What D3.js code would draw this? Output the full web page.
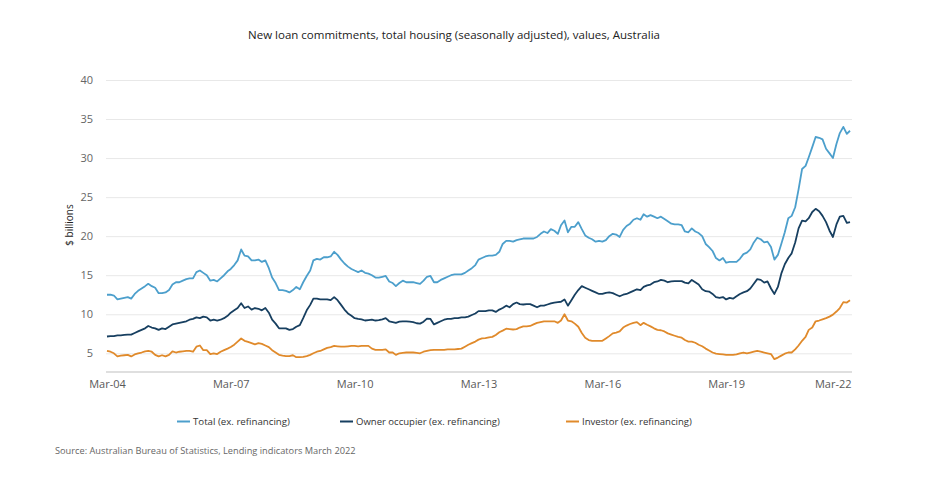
<!DOCTYPE html>
<html>
<head>
<meta charset="utf-8">
<script src="https://cdn.jsdelivr.net/npm/d3@7"></script>
<style>
  body { margin: 0; background: #fff; }
  svg { display: block; font-family: "Segoe UI", "Open Sans", sans-serif; }
</style>
</head>
<body>
<svg id="chart" width="938" height="486"></svg>
<script>
// monthly values, $ billions, Mar-04 .. Mar-22 (one row per year, Mar..Feb)
const total = [
  12.5, 12.5, 12.4, 11.9, 12.0, 12.1, 12.2, 12.0, 12.6, 13.0, 13.3, 13.6,
  13.9, 13.6, 13.4, 12.7, 12.7, 12.8, 13.1, 13.8, 14.1, 14.1, 14.3, 14.5,
  14.6, 14.6, 15.4, 15.6, 15.3, 15.0, 14.3, 14.4, 14.2, 14.6, 15.0, 15.5,
  15.8, 16.3, 16.9, 18.3, 17.5, 17.4, 16.9, 16.9, 17.0, 16.7, 16.9, 15.9,
  14.7, 14.0, 13.1, 13.1, 13.0, 12.8, 13.1, 13.5, 13.2, 14.1, 14.9, 15.6,
  16.9, 17.1, 17.0, 17.3, 17.3, 17.4, 18.0, 17.6, 17.0, 16.5, 16.1, 15.8,
  15.6, 15.4, 15.6, 15.3, 15.2, 15.0, 14.7, 14.7, 14.8, 14.9, 14.2, 14.0,
  13.6, 14.0, 14.3, 14.1, 14.1, 14.1, 14.0, 13.9, 14.3, 14.8, 14.9, 14.1,
  14.1, 14.4, 14.6, 14.8, 15.0, 15.1, 15.1, 15.1, 15.3, 15.6, 15.9, 16.3,
  17.0, 17.2, 17.4, 17.5, 17.5, 17.6, 18.0, 19.0, 19.4, 19.4, 19.3, 19.5,
  19.6, 19.7, 19.7, 19.7, 19.7, 19.9, 20.3, 20.6, 20.4, 20.9, 20.7, 20.3,
  21.4, 22.0, 20.5, 21.2, 21.2, 21.8, 20.9, 20.1, 19.8, 19.6, 19.3, 19.4,
  19.3, 19.5, 20.0, 20.3, 20.2, 19.9, 20.8, 21.3, 21.6, 22.1, 22.3, 22.1,
  22.8, 22.5, 22.7, 22.5, 22.3, 22.5, 22.2, 21.9, 21.6, 21.5, 21.5, 21.4,
  20.6, 20.5, 21.0, 20.6, 20.4, 20.0, 19.0, 18.6, 18.1, 17.2, 16.9, 17.2,
  16.6, 16.7, 16.7, 16.7, 17.1, 17.7, 17.9, 18.3, 19.2, 19.8, 19.6, 19.2,
  19.3, 18.6, 17.0, 17.6, 19.0, 20.5, 22.3, 22.6, 23.7, 26.0, 28.6, 29.0,
  30.1, 31.4, 32.7, 32.6, 32.4, 31.2, 30.6, 30.0, 31.8, 33.2, 34.0, 33.1,
  33.5
]
const owner = [
  7.15, 7.2, 7.2, 7.3, 7.3, 7.35, 7.4, 7.4, 7.6, 7.8, 8.0, 8.2,
  8.5, 8.3, 8.2, 8.0, 8.2, 8.1, 8.4, 8.7, 8.8, 8.9, 9.0, 9.1,
  9.3, 9.4, 9.6, 9.5, 9.7, 9.6, 9.2, 9.3, 9.2, 9.3, 9.5, 9.8,
  10.2, 10.5, 10.8, 11.4, 10.8, 11.0, 10.6, 10.8, 10.7, 10.5, 10.8, 10.2,
  9.3, 8.8, 8.2, 8.2, 8.2, 8.0, 8.1, 8.4, 8.6, 9.5, 10.5, 11.2,
  12.0, 12.0, 11.9, 11.9, 11.9, 11.8, 12.2, 11.8, 11.2, 10.6, 10.1, 9.8,
  9.5, 9.4, 9.35, 9.2, 9.25, 9.3, 9.2, 9.25, 9.35, 9.5, 9.1, 9.0,
  8.9, 9.05, 9.1, 9.1, 9.05, 9.0, 8.85, 8.8, 9.05, 9.45, 9.4, 8.7,
  8.9, 9.1, 9.3, 9.4, 9.4, 9.5, 9.5, 9.6, 9.6, 9.7, 9.9, 10.1,
  10.4, 10.4, 10.4, 10.5, 10.5, 10.3, 10.6, 10.8, 11.1, 10.9, 11.3, 11.5,
  11.3, 11.25, 11.3, 11.3, 11.1, 10.9, 11.1, 11.1, 11.25, 11.4, 11.5, 11.55,
  11.6, 11.9, 11.1, 11.8, 12.5, 13.1, 13.6, 13.4, 13.2, 13.0, 12.8, 12.6,
  12.6, 12.75, 12.8, 12.7, 12.5, 12.3, 12.5, 12.6, 12.8, 13.0, 13.2, 13.1,
  13.5, 13.7, 13.8, 14.1, 14.2, 14.4, 14.3, 14.1, 14.2, 14.25, 14.25, 14.25,
  14.05, 13.95, 14.4, 14.1, 13.8, 13.2, 12.95, 12.9, 12.6, 12.2, 12.1, 12.2,
  11.9, 12.1, 12.0, 12.3, 12.6, 12.8, 12.95, 13.3, 13.9, 14.5, 14.4, 14.05,
  14.2, 13.3, 12.6, 13.5, 15.2, 16.4, 17.2, 17.8, 19.2, 21.0, 22.0, 21.9,
  22.3, 23.1, 23.5, 23.2, 22.6, 21.8, 20.7, 19.9, 21.5, 22.5, 22.6, 21.7,
  21.8
]
const investor = [
  5.3, 5.2, 5.0, 4.6, 4.7, 4.75, 4.8, 4.6, 4.85, 5.0, 5.1, 5.25,
  5.3, 5.2, 4.8, 4.6, 4.75, 4.6, 4.8, 5.25, 5.1, 5.2, 5.25, 5.3,
  5.3, 5.2, 5.85, 6.0, 5.4, 5.4, 4.9, 5.0, 4.9, 5.2, 5.4, 5.6,
  5.8, 6.1, 6.5, 6.9, 6.6, 6.45, 6.3, 6.15, 6.3, 6.2, 6.0, 5.8,
  5.4, 5.1, 4.8, 4.7, 4.65, 4.65, 4.75, 4.5, 4.5, 4.55, 4.65, 4.8,
  5.0, 5.2, 5.3, 5.5, 5.7, 5.8, 5.95, 5.9, 5.85, 5.85, 5.9, 5.95,
  5.95, 5.9, 5.95, 5.95, 5.95, 5.6, 5.45, 5.45, 5.45, 5.5, 5.1, 5.1,
  4.8, 5.0, 5.05, 5.1, 5.1, 5.1, 5.05, 5.0, 5.2, 5.3, 5.4, 5.45,
  5.45, 5.45, 5.45, 5.5, 5.5, 5.5, 5.55, 5.6, 5.85, 6.1, 6.3, 6.5,
  6.75, 6.9, 6.95, 7.05, 7.1, 7.35, 7.7, 7.9, 8.15, 8.1, 8.05, 8.1,
  8.3, 8.45, 8.45, 8.5, 8.7, 8.9, 9.0, 9.1, 9.1, 9.1, 9.1, 8.9,
  9.2, 10.0, 9.2, 9.1, 8.8, 8.4, 7.6, 7.0, 6.7, 6.6, 6.6, 6.6,
  6.6, 6.9, 7.2, 7.55, 7.65, 7.8, 8.3, 8.55, 8.75, 8.9, 9.0, 8.6,
  8.9, 8.65, 8.45, 8.2, 8.0, 7.95, 7.8, 7.55, 7.4, 7.25, 7.1, 7.0,
  6.7, 6.5, 6.5, 6.35, 6.1, 5.9, 5.6, 5.35, 5.1, 4.95, 4.9, 4.85,
  4.8, 4.8, 4.8, 4.85, 5.0, 5.1, 5.0, 5.1, 5.2, 5.3, 5.2, 5.1,
  5.0, 4.9, 4.25, 4.45, 4.7, 4.95, 5.1, 5.1, 5.5, 6.0, 6.6, 7.1,
  8.0, 8.3, 9.1, 9.2, 9.35, 9.5, 9.7, 9.95, 10.35, 10.8, 11.55, 11.5,
  11.8
]
const seriesNames = ['Total (ex. refinancing)', 'Owner occupier (ex. refinancing)', 'Investor (ex. refinancing)']
const seriesColors = ['#4c9fcc', '#173f60', '#e08a2b']
const yTicks = [5, 10, 15, 20, 25, 30, 35, 40]
const xTickYears = [2004, 2007, 2010, 2013, 2016, 2019, 2022]

const months = d3.timeMonths(new Date(2004, 2, 1), new Date(2022, 3, 1))
const series = [total, owner, investor]

// shrink/grow a text until it is the width we want
function fit_text(sel, w) {
    const cur = sel.node().getComputedTextLength()
    sel.attr('font-size', parseFloat(sel.attr('font-size')) * w / cur)
}

const svg = d3.select('#chart')
const plotLeft = 107, plotRight = 850, plotTop = 80, plotBottom = 372

const x = d3.scaleTime([months[0], months[months.length - 1]], [plotLeft, plotRight])
const y = d3.scaleLinear([5, 40], [353.3, plotTop])

// gridlines + y labels
const yAxis = svg.append('g')
   .attr('transform', `translate(${plotLeft - 1},0)`)
   .call(d3.axisLeft(y).tickValues(yTicks).tickSize(-(plotRight - plotLeft + 3)).tickPadding(13))
yAxis.select('.domain').remove()
yAxis.selectAll('line').attr('stroke', '#e8e8e8')
yAxis.selectAll('text')
     .attr('fill', '#666').attr('font-size', 11)
     .attr('font-family', '"Segoe UI", "Open Sans", sans-serif')

// bottom axis
const xAxis = svg.append('g')
   .attr('transform', `translate(0,${plotBottom})`)
   .call(d3.axisBottom(x)
           .tickValues(xTickYears.map(yr => new Date(yr, 2, 1)))
           .tickFormat(d3.timeFormat('%b-%y'))
           .tickSize(0).tickSizeOuter(0).tickPadding(8))
xAxis.select('.domain').attr('stroke', '#d4d4d4').attr('stroke-width', 1.3)
     .attr('d', `M${plotLeft - 1},0H${plotRight + 2}`)
xAxis.selectAll('text')
     .attr('fill', '#595959').attr('font-size', 11)
     .attr('font-family', '"Segoe UI", "Open Sans", sans-serif')
// last label sits inside the plot's right edge
xAxis.selectAll('.tick').filter((d, i, n) => i == n.length - 1)
     .select('text').attr('text-anchor', 'end').attr('dx', 1)

// lines
const line = d3.line().x((d, i) => x(months[i])).y(d => y(d))
svg.append('g')
   .selectAll('path')
   .data(series)
   .join('path')
     .attr('fill', 'none')
     .attr('stroke', (d, i) => seriesColors[i])
     .attr('stroke-width', 1.8)
     .attr('stroke-linejoin', 'round')
     .attr('d', line)

// y axis title
svg.append('text')
   .attr('transform', 'translate(73,225) rotate(-90)')
   .attr('text-anchor', 'middle')
   .attr('fill', '#222').attr('font-size', 10)
   .text('$ billions')

// title
const title = svg.append('text')
   .attr('x', 454).attr('y', 39)
   .attr('text-anchor', 'middle')
   .attr('fill', '#222').attr('font-size', 12)
   .text('New loan commitments, total housing (seasonally adjusted), values, Australia')
fit_text(title, 412)

// legend
const legendSwatchX = [177, 340, 566]
const legendTextW = [97, 144, 110]
const legend = svg.append('g')
   .selectAll('g')
   .data(seriesNames)
   .join('g')
     .attr('transform', (d, i) => `translate(${legendSwatchX[i]},421.5)`)
legend.append('line')
      .attr('x1', 0).attr('x2', 13)
      .attr('stroke', (d, i) => seriesColors[i])
      .attr('stroke-width', 2)
legend.append('text')
      .attr('x', 16).attr('y', 3.6)
      .attr('fill', '#333').attr('font-size', 10)
      .text(d => d)
      .each(function(d, i) { fit_text(d3.select(this), legendTextW[i]) })

// source
const source = svg.append('text')
   .attr('x', 55).attr('y', 453.5)
   .attr('fill', '#666').attr('font-size', 10)
   .text('Source: Australian Bureau of Statistics, Lending indicators March 2022')
fit_text(source, 301)
</script>
</body>
</html>
